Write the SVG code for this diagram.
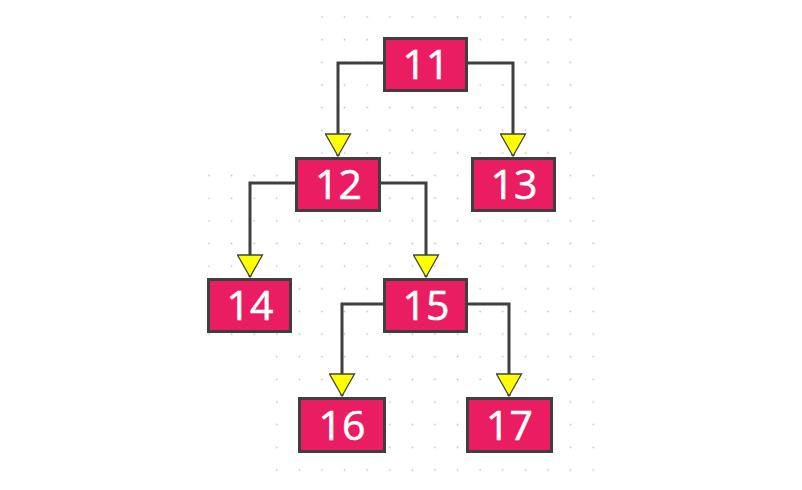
<svg xmlns="http://www.w3.org/2000/svg" width="802" height="490" viewBox="0 0 802 490">
  <style>
    .node rect { fill: #ea1c62; stroke: #3f3f3f; stroke-width: 3; }
    .node text { fill: #ffffff; font-family: "Open Sans", "DejaVu Sans", sans-serif; font-size: 41px; text-anchor: middle; stroke: #ffffff; stroke-width: 0.6; }
    .edge { fill: none; stroke: #3f3f3f; stroke-width: 3; marker-end: url(#arrow); }
  </style>
  <defs>
    <pattern id="dots" patternUnits="userSpaceOnUse" x="197.7" y="5.675" width="22.6" height="22.65">
      <circle cx="11.3" cy="11.325" r="0.9" fill="#c4c4c4"/>
    </pattern>
    <marker id="arrow" markerUnits="userSpaceOnUse" viewBox="-1 -1 25 27" refX="22" refY="12.5" markerWidth="25" markerHeight="27" orient="auto">
      <path d="M0,0 L22,12.5 L0,25 Z" fill="#ffff00" stroke="#444444" stroke-width="1.3"/>
    </marker>
  </defs>
  <rect width="802" height="490" fill="#ffffff"/>
  <g id="grid" fill="url(#dots)">
    <rect x="310.7" y="5.7" width="270.6" height="158.6"/>
    <rect x="197.7" y="164.3" width="406.6" height="181.4"/>
    <rect x="265.7" y="345.7" width="338.6" height="135.6"/>
  </g>
  <g id="connectors">
    <path class="edge" d="M383,63 H338 V156"/>
    <path class="edge" d="M468,63 H513 V156"/>
    <path class="edge" d="M295,183 H250 V277"/>
    <path class="edge" d="M381,183 H426 V277"/>
    <path class="edge" d="M383,304 H342 V396"/>
    <path class="edge" d="M468,304 H509 V396"/>
  </g>
  <g id="n11" class="node"><rect x="384.5" y="38.5" width="82" height="52"/><text x="426" y="79">11</text></g>
  <g id="n12" class="node"><rect x="296.5" y="158.5" width="83" height="52"/><text x="338.5" y="199">12</text></g>
  <g id="n13" class="node"><rect x="472.5" y="158.5" width="82" height="52"/><text x="514" y="199">13</text></g>
  <g id="n14" class="node"><rect x="208.5" y="279.5" width="82" height="52"/><text x="250" y="320">14</text></g>
  <g id="n15" class="node"><rect x="384.5" y="279.5" width="82" height="52"/><text x="426" y="320">15</text></g>
  <g id="n16" class="node"><rect x="299.5" y="398.5" width="85" height="53"/><text x="342" y="440">16</text></g>
  <g id="n17" class="node"><rect x="467.5" y="398.5" width="84" height="53"/><text x="509.5" y="440">17</text></g>
</svg>
